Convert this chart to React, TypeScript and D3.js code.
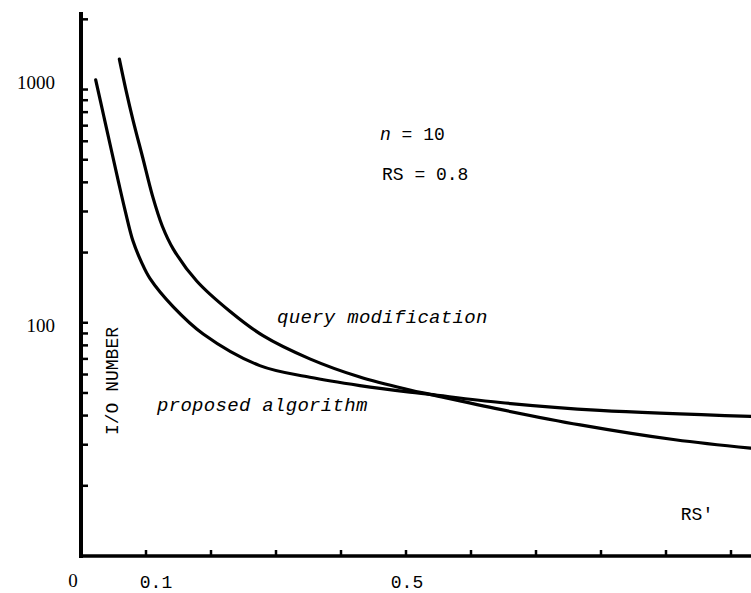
import React from 'react';
import * as d3 from 'd3';

// RS' values and I/O numbers
const queryRS = [0.059, 0.069, 0.08, 0.095, 0.11, 0.125, 0.142, 0.178, 0.229, 0.28, 0.352, 0.429, 0.506, 0.537, 0.645, 0.768, 0.914, 1.03];
const queryIO = [1350, 1000, 740, 510, 350, 260, 207, 151, 112, 88, 70, 58.5, 51.5, 49.3, 42.5, 36.5, 31.5, 29];

const proposedRS = [0.0226, 0.035, 0.047, 0.058, 0.068, 0.08, 0.093, 0.106, 0.142, 0.188, 0.275, 0.352, 0.429, 0.506, 0.537, 0.645, 0.798, 1.03];
const proposedIO = [1100, 770, 545, 398, 302, 224, 182, 155, 117, 89.5, 65.5, 58.4, 53.8, 50.4, 49.3, 45.5, 42.1, 39.7];

const xTickValues = [0.1, 0.2, 0.3, 0.4, 0.5, 0.6, 0.7, 0.8, 0.9, 1.0];
const xTickLabels = [0, 0.1, 0.5];
const yTickValues = [20, 30, 40, 50, 60, 70, 80, 90, 100, 200, 300, 400, 500, 600, 700, 800, 900, 1000, 2000];
const yTickLabels = [100, 1000];

const W = 751;
const H = 593;
const mono = '"Liberation Mono", monospace';
const serif = '"Liberation Serif", serif';

const App = () => {
  const x = d3.scaleLinear().domain([0, 1.03]).range([81, 750.5]);
  const y = d3.scaleLog().domain([10, 2150]).range([556, 12]);

  const line = d3.line<[number, number]>()
    .x(d => x(d[0]))
    .y(d => y(d[1]))
    .curve(d3.curveCatmullRom.alpha(0.5));

  const queryPath = line(queryRS.map((v, i) => [v, queryIO[i]])) || '';
  const proposedPath = line(proposedRS.map((v, i) => [v, proposedIO[i]])) || '';

  const x0 = x(0);
  const y0 = y(10);

  return (
    <svg width={W} height={H} style={{ position: 'absolute', left: 0, top: 0, background: '#fff' }}>
      {/* axes */}
      <line x1={x0} y1={y(2150)} x2={x0} y2={y0 + 2} stroke="#000" strokeWidth={4} />
      <line x1={x0 - 2} y1={y0} x2={W} y2={y0} stroke="#000" strokeWidth={3.5} />
      {yTickValues.map(v => (
        <line key={'yt' + v} x1={x0} x2={x0 + 7} y1={y(v)} y2={y(v)} stroke="#000" strokeWidth={2.5} />
      ))}
      {xTickValues.map(v => (
        <line key={'xt' + v} x1={x(v)} x2={x(v)} y1={y0} y2={y0 - 6} stroke="#000" strokeWidth={2.5} />
      ))}

      {/* tick labels */}
      {yTickLabels.map(v => (
        <text key={'yl' + v} x={55} y={y(v) + (v === 1000 ? -5 : 5)} textAnchor="end" dominantBaseline="middle"
          fontFamily={serif} fontSize={19} fill="#000">{v}</text>
      ))}
      {xTickLabels.map(v => (
        <text key={'xl' + v} x={x(v) + (v === 0 ? -8 : v === 0.1 ? 10 : 1)} y={583} textAnchor="middle" dominantBaseline="middle"
          fontFamily={v === 0 ? serif : mono} fontSize={v === 0 ? 19 : 18} fill="#000">{v === 0 ? '0' : v.toFixed(1)}</text>
      ))}

      {/* curves */}
      <path d={queryPath} fill="none" stroke="#000" strokeWidth={3.2} strokeLinecap="round" />
      <path d={proposedPath} fill="none" stroke="#000" strokeWidth={3.2} strokeLinecap="round" />

      {/* annotations */}
      <text x={380} y={135} dominantBaseline="middle" fontFamily={mono} fontSize={18} fill="#000">
        <tspan fontStyle="italic">n</tspan> = 10
      </text>
      <text x={382} y={175} dominantBaseline="middle" fontFamily={mono} fontSize={18} fill="#000">RS = 0.8</text>
      <text x={277} y={318} dominantBaseline="middle" fontFamily={mono} fontStyle="italic" fontSize={19} letterSpacing={0.3} fill="#000">query modification</text>
      <text x={157} y={406} dominantBaseline="middle" fontFamily={mono} fontStyle="italic" fontSize={19} letterSpacing={0.3} fill="#000">proposed algorithm</text>
      <text x={697} y={515} textAnchor="middle" dominantBaseline="middle" fontFamily={mono} fontSize={18} fill="#000">RS'</text>
      <text transform="translate(113,381) rotate(-90)" textAnchor="middle" dominantBaseline="middle"
        fontFamily={mono} fontSize={18} fill="#000">I/O NUMBER</text>
    </svg>
  );
};

export default App;
